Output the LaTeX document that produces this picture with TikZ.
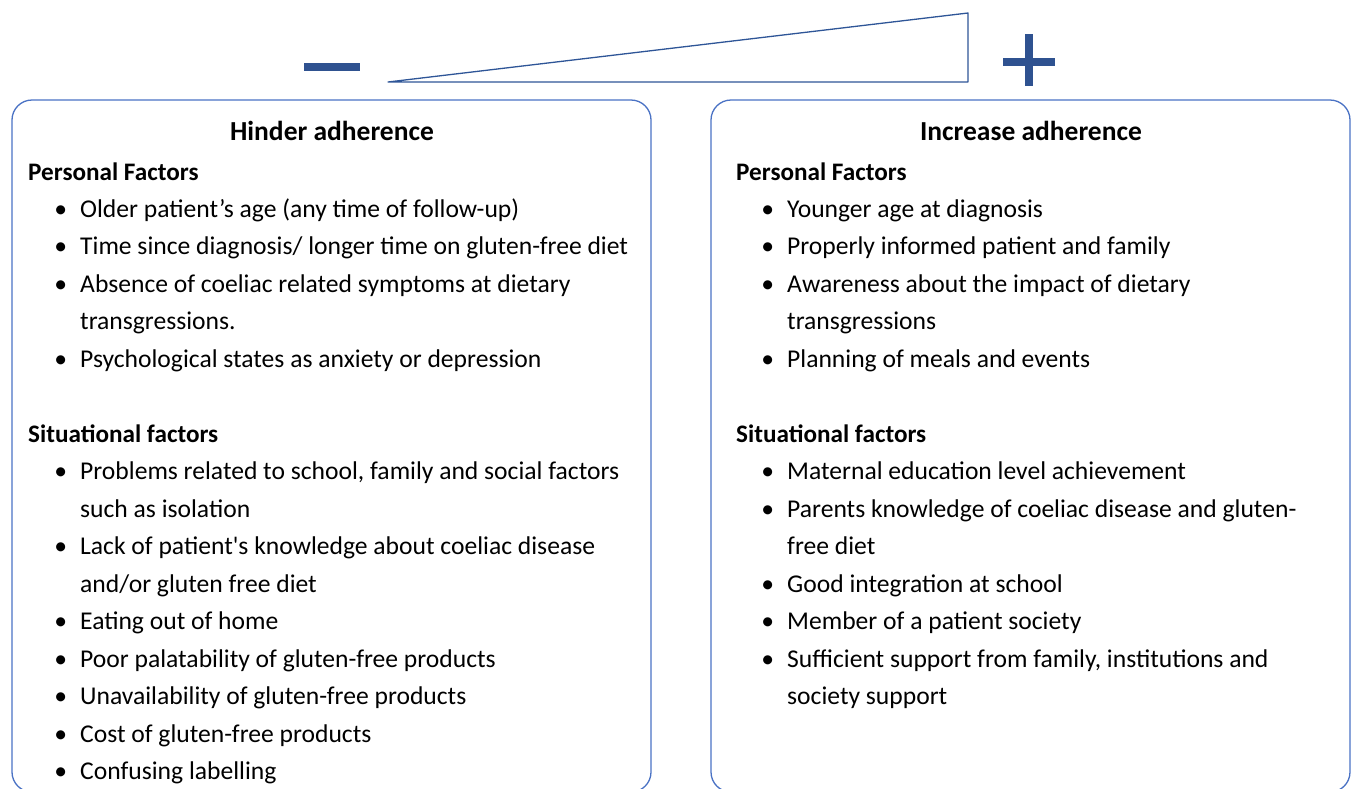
\documentclass[tikz,border=0pt]{standalone}
\usepackage{fontspec}
\setmainfont{Carlito}
\definecolor{boxblue}{HTML}{4A72C4}
\definecolor{signblue}{HTML}{2F5290}
\definecolor{wedgeblue}{HTML}{2E5597}
\tikzset{
  panel/.style={draw=boxblue,line width=1.3pt,rounded corners=20pt},
  title/.style={font=\fontsize{27.5}{32}\selectfont\bfseries,anchor=base},
  group/.style={font=\fontsize{25.2}{30}\selectfont\bfseries,anchor=base west,inner sep=0pt},
  entry/.style={font=\fontsize{25.6}{30}\selectfont,anchor=base west,inner sep=0pt},
}
\newcommand{\dotitem}{\llap{\textbullet\hspace{13pt}}}
\begin{document}
\begin{tikzpicture}[x=1pt,y=-1pt]
  \useasboundingbox (0,0) rectangle (1351,788);

  % scale of adherence
  \draw[wedgeblue,line width=1.3pt,line join=round] (388,82) -- (968,82) -- (968,13) -- cycle;
  \fill[signblue] (304,63) rectangle (360,71);
  \fill[signblue] (1003,58) rectangle (1055,66);
  \fill[signblue] (1025,34) rectangle (1033,86);

  % panels
  \draw[panel] (12,100) rectangle (651,792);
  \draw[panel] (711,100) rectangle (1350,792);

  % left panel
  \node[title] (hinder) at (332,140) {Hinder adherence};
  \node[group] (lpers) at (28,180) {Personal Factors};
  \node[entry] (l0)  at (80,217)   {\dotitem Older patient’s age (any time of follow-up)};
  \node[entry] (l1)  at (80,254.5) {\dotitem Time since diagnosis/ longer time on gluten-free diet};
  \node[entry] (l2)  at (80,292)   {\dotitem Absence of coeliac related symptoms at dietary};
  \node[entry] (l3)  at (80,329.5) {transgressions.};
  \node[entry] (l4)  at (80,367)   {\dotitem Psychological states as anxiety or depression};
  \node[group] (lsit) at (28,442) {Situational factors};
  \node[entry] (l7)  at (80,479.5) {\dotitem Problems related to school, family and social factors};
  \node[entry] (l8)  at (80,517)   {such as isolation};
  \node[entry] (l9)  at (80,554.5) {\dotitem Lack of patient\textquotesingle s knowledge about coeliac disease};
  \node[entry] (l10) at (80,592)   {and/or gluten free diet};
  \node[entry] (l11) at (80,629.5) {\dotitem Eating out of home};
  \node[entry] (l12) at (80,667)   {\dotitem Poor palatability of gluten-free products};
  \node[entry] (l13) at (80,704.5) {\dotitem Unavailability of gluten-free products};
  \node[entry] (l14) at (80,742)   {\dotitem Cost of gluten-free products};
  \node[entry] (l15) at (80,779.5) {\dotitem Confusing labelling};

  % right panel
  \node[title] (increase) at (1031,140) {Increase adherence};
  \node[group] (rpers) at (736,180) {Personal Factors};
  \node[entry] (r0)  at (787,217)   {\dotitem Younger age at diagnosis};
  \node[entry] (r1)  at (787,254.5) {\dotitem Properly informed patient and family};
  \node[entry] (r2)  at (787,292)   {\dotitem Awareness about the impact of dietary};
  \node[entry] (r3)  at (787,329.5) {transgressions};
  \node[entry] (r4)  at (787,367)   {\dotitem Planning of meals and events};
  \node[group] (rsit) at (736,442) {Situational factors};
  \node[entry] (r7)  at (787,479.5) {\dotitem Maternal education level achievement};
  \node[entry] (r8)  at (787,517)   {\dotitem Parents knowledge of coeliac disease and gluten-};
  \node[entry] (r9)  at (787,554.5) {free diet};
  \node[entry] (r10) at (787,592)   {\dotitem Good integration at school};
  \node[entry] (r11) at (787,629.5) {\dotitem Member of a patient society};
  \node[entry] (r12) at (787,667)   {\dotitem Sufficient support from family, institutions and};
  \node[entry] (r13) at (787,704.5) {society support};

\end{tikzpicture}
\end{document}
